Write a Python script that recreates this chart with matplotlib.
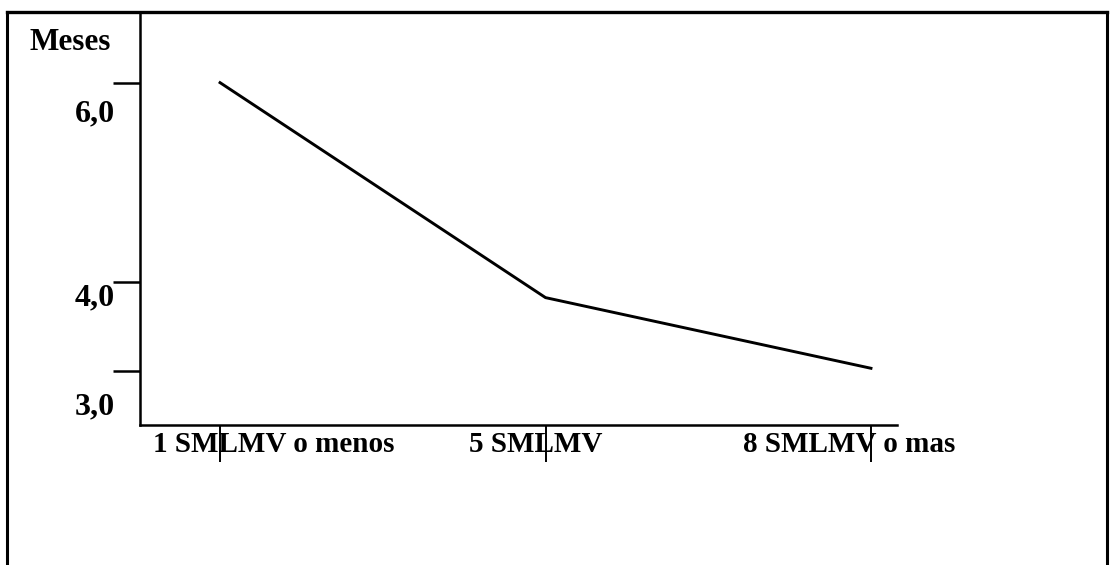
import matplotlib.pyplot as plt
from matplotlib.lines import Line2D

# ingreso -> meses
categorias = ["1 SMLMV o menos", "5 SMLMV", "8 SMLMV o mas"]
meses = [6.0, 3.84, 3.13]

yticks = [6.0, 4.0, 3.1]
ytick_labels = ["6,0", "4,0", "3,0"]

plt.rcParams["font.family"] = ["Liberation Serif", "DejaVu Serif"]
plt.rcParams["font.weight"] = "bold"

fig = plt.figure(figsize=(11.13, 5.65), dpi=100)
ax = fig.add_axes([140 / 1113, 1 - 425 / 565, (897 - 140) / 1113, (425 - 12) / 565])

x = list(range(len(categorias)))
ax.plot(x, meses, color="black", lw=2.1, solid_joinstyle="miter")

ax.set_xlim(-0.246, 2.08)
ax.set_ylim(2.56, 6.71)

for s in ["top", "right"]:
    ax.spines[s].set_visible(False)
for s in ["left", "bottom"]:
    ax.spines[s].set_linewidth(1.8)

ax.set_yticks(yticks)
ax.set_yticklabels([])
ax.set_xticks(x)
ax.set_xticklabels([])
ax.tick_params(axis="y", direction="out", length=19.5, width=1.8)
ax.tick_params(axis="x", direction="out", length=26.5, width=1.4)

# etiquetas desplazadas como en el original
y_off = [-22.5, -12.0, -26.0]
for v, lab, off in zip(yticks, ytick_labels, y_off):
    ax.annotate(lab, xy=(0, v), xycoords=("axes fraction", "data"),
                xytext=(-18, off), textcoords="offset points",
                ha="right", va="center", fontsize=23, fontweight="bold")

x_off = [-48, -55, -92]
for xi, lab, off in zip(x, categorias, x_off):
    ax.annotate(lab, xy=(xi, 0), xycoords=("data", "axes fraction"),
                xytext=(off, -4), textcoords="offset points",
                ha="left", va="top", fontsize=21, fontweight="bold")

fig.text(29 / 1113, 1 - 42 / 565, "Meses", ha="left", va="center",
         fontsize=22.5, fontweight="bold")

# marco del escaneo
W, H = 1113, 565
fig.add_artist(Line2D([7 / W, 1107 / W], [1 - 12 / H, 1 - 12 / H], color="black", lw=2.4))
fig.add_artist(Line2D([7 / W, 7 / W], [0, 1 - 12 / H], color="black", lw=2.2))
fig.add_artist(Line2D([1107 / W, 1107 / W], [0, 1 - 12 / H], color="black", lw=2.2))

fig.savefig("out.png", dpi=100)
